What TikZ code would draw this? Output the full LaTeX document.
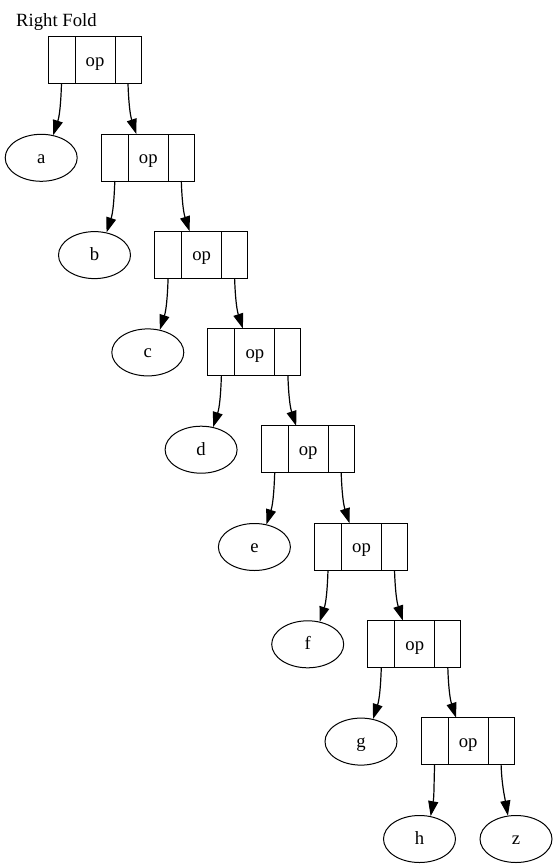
\documentclass[tikz,border=0pt]{standalone}
\usepackage{fontspec}
\setmainfont{Liberation Serif}
\usetikzlibrary{shapes.geometric, arrows.meta, positioning}
\tikzset{>={Triangle[length=15pt,width=10pt]}}

\begin{document}
\begin{tikzpicture}[x=1pt, y=-1pt, font=\fontsize{18.67}{22}\selectfont]
    % Define node styles
    \tikzstyle{cell} = [rectangle, draw, line width=1pt, minimum height=47pt, inner sep=0pt, outer sep=0pt, text height=12pt, text depth=0pt]
    \tikzstyle{opcell} = [cell, minimum width=40pt]
    \tikzstyle{lcell} = [cell, minimum width=27pt]
    \tikzstyle{rcell} = [cell, minimum width=26pt]
    \tikzstyle{leaf} = [ellipse, draw, line width=1pt, minimum width=72pt, minimum height=47pt, inner sep=0pt, text height=11pt, text depth=0pt]
    \tikzstyle{link} = [-{Triangle[length=15pt,width=10pt]}, line width=1.2pt]

    \useasboundingbox (0,0) rectangle (557,868);

    \node[anchor=base west, inner sep=0pt] (title) at (16,26) {Right Fold};

    % op records (middle cell, then left and right cells)
    \node[opcell] (op0) at (95,60.2) {op};
    \node[lcell, left=0pt of op0] (l0) {};
    \node[rcell, right=0pt of op0] (r0) {};

    \node[opcell] (op1) at (148.3,157.5) {op};
    \node[lcell, left=0pt of op1] (l1) {};
    \node[rcell, right=0pt of op1] (r1) {};

    \node[opcell] (op2) at (201.6,254.8) {op};
    \node[lcell, left=0pt of op2] (l2) {};
    \node[rcell, right=0pt of op2] (r2) {};

    \node[opcell] (op3) at (254.9,352.1) {op};
    \node[lcell, left=0pt of op3] (l3) {};
    \node[rcell, right=0pt of op3] (r3) {};

    \node[opcell] (op4) at (308.2,449.4) {op};
    \node[lcell, left=0pt of op4] (l4) {};
    \node[rcell, right=0pt of op4] (r4) {};

    \node[opcell] (op5) at (361.5,546.7) {op};
    \node[lcell, left=0pt of op5] (l5) {};
    \node[rcell, right=0pt of op5] (r5) {};

    \node[opcell] (op6) at (414.8,644.0) {op};
    \node[lcell, left=0pt of op6] (l6) {};
    \node[rcell, right=0pt of op6] (r6) {};

    \node[opcell] (op7) at (468.1,741.3) {op};
    \node[lcell, left=0pt of op7] (l7) {};
    \node[rcell, right=0pt of op7] (r7) {};

    % leaves
    \node[leaf] (a) at (41.2,157.8) {a};
    \node[leaf] (b) at (94.5,255.1) {b};
    \node[leaf] (c) at (147.8,352.4) {c};
    \node[leaf] (d) at (201.1,449.7) {d};
    \node[leaf] (e) at (254.4,547.0) {e};
    \node[leaf] (f) at (307.7,644.3) {f};
    \node[leaf] (g) at (361.0,741.6) {g};
    \node[leaf] (h) at (419.5,839.0) {h};
    \node[leaf] (z) at (516.0,839.0) {z};

    % Arrows from the left cells
    \draw[link] (l0.south) to[out=-92, in=72] (a.62);
    \draw[link] (l1.south) to[out=-92, in=72] (b.62);
    \draw[link] (l2.south) to[out=-92, in=72] (c.62);
    \draw[link] (l3.south) to[out=-92, in=72] (d.62);
    \draw[link] (l4.south) to[out=-92, in=72] (e.62);
    \draw[link] (l5.south) to[out=-92, in=72] (f.62);
    \draw[link] (l6.south) to[out=-92, in=72] (g.62);
    \draw[link] (l7.south) to[out=-92, in=80] (h.64);

    % Arrows from the right cells
    \draw[link] (r0.south) to[out=-88, in=108] ([xshift=-12pt]op1.north);
    \draw[link] (r1.south) to[out=-88, in=108] ([xshift=-12pt]op2.north);
    \draw[link] (r2.south) to[out=-88, in=108] ([xshift=-12pt]op3.north);
    \draw[link] (r3.south) to[out=-88, in=108] ([xshift=-12pt]op4.north);
    \draw[link] (r4.south) to[out=-88, in=108] ([xshift=-12pt]op5.north);
    \draw[link] (r5.south) to[out=-88, in=108] ([xshift=-12pt]op6.north);
    \draw[link] (r6.south) to[out=-88, in=108] ([xshift=-12pt]op7.north);
    \draw[link] (r7.south) to[out=-88, in=100] (z.109);

\end{tikzpicture}
\end{document}
